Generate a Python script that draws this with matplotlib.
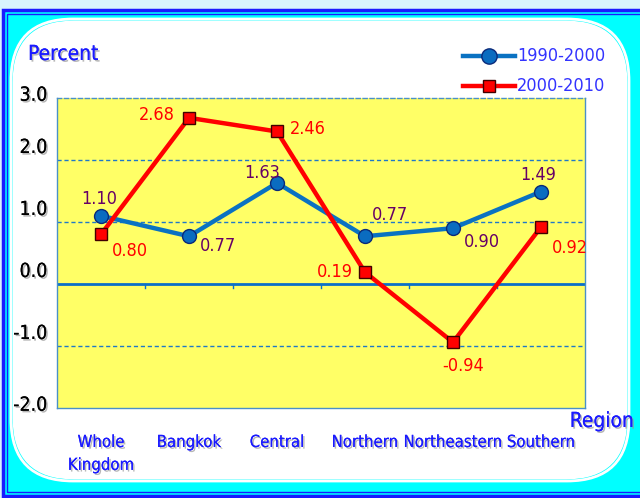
import matplotlib
matplotlib.use('Agg')
import matplotlib.pyplot as plt
import matplotlib.patheffects as pe
from matplotlib.patches import FancyBboxPatch, Rectangle

plt.rcParams['font.family'] = ['DejaVu Sans']
plt.rcParams['font.stretch'] = 'condensed'

regions = ['Whole\nKingdom', 'Bangkok', 'Central', 'Northern', 'Northeastern', 'Southern']
rate_1990_2000 = [1.10, 0.77, 1.63, 0.77, 0.90, 1.49]
rate_2000_2010 = [0.80, 2.68, 2.46, 0.19, -0.94, 0.92]
yticks = [3.0, 2.0, 1.0, 0.0, -1.0, -2.0]

# label offsets (points) for each data label
off_blue = [(-1, 12), (21, -7), (-11, 7), (18, 15), (21, -10), (-2, 12)]
off_red = [(21, -12), (-23, 2), (22, 2), (-22, 0), (7, -17), (21, -15)]

fig = plt.figure(figsize=(6.4, 4.98), dpi=100)
fig.patch.set_facecolor('#d8f4fd')

# frame: blue border, cyan fill, white rounded panel
fig.patches.append(Rectangle((3, 2), 650, 486, transform=None, facecolor='#00ffff',
                             edgecolor='#1a1aff', lw=2.5, zorder=-3))
fig.patches.append(Rectangle((7, 6), 650, 478, transform=None, facecolor='none',
                             edgecolor='#1a1aff', lw=1, zorder=-3))
fig.patches.append(FancyBboxPatch((36, 42), 568, 412, transform=None,
                                  boxstyle='round,pad=22,rounding_size=60',
                                  facecolor='white', edgecolor='white', lw=2, zorder=-2))
fig.patches.append(FancyBboxPatch((33, 39), 574, 418, transform=None,
                                  boxstyle='round,pad=22,rounding_size=62',
                                  facecolor='none', edgecolor='white', lw=2, zorder=-2))

ax = fig.add_axes([57 / 640, 1 - 408 / 498, 528 / 640, 310 / 498])
ax.set_zorder(1)
ax.set_facecolor('#ffff66')
x = list(range(len(regions)))

ax.set_xlim(-0.5, len(regions) - 0.5)
ax.set_ylim(-2.0, 3.0)
for v in [2.0, 1.0, -1.0]:
    ax.axhline(v, color='#1f78c8', lw=1, ls=(0, (3, 2)), zorder=1)
ax.axhline(0, color='#0a6fc8', lw=2, zorder=1)
for b in range(1, len(regions)):
    ax.plot([b - 0.5, b - 0.5], [0, -0.07], color='#0a6fc8', lw=1, zorder=1)

for s in ax.spines.values():
    s.set_color('#4a90c8')
    s.set_linewidth(1)
ax.spines['top'].set_linestyle((0, (3, 2)))

ax.plot(x, rate_1990_2000, color='#0a72c2', lw=3.2, marker='o', ms=10,
        mfc='#0a6cc0', mec='#0a2a7a', mew=1, zorder=3)
ax.plot(x, rate_2000_2010, color='#ff0000', lw=3.2, marker='s', ms=9,
        mfc='#ff0000', mec='#400000', mew=1, zorder=4)

for xi, v, o in zip(x, rate_1990_2000, off_blue):
    ax.annotate(f'{v:.2f}', (xi, v), xytext=o, textcoords='offset points',
                ha='center', va='center', fontsize=13, color='#660066', zorder=5)
for xi, v, o in zip(x, rate_2000_2010, off_red):
    ax.annotate(f'{v:.2f}', (xi, v), xytext=o, textcoords='offset points',
                ha='center', va='center', fontsize=13, color='#ff0000', zorder=5)

shadow = [pe.withSimplePatchShadow(offset=(1.2, -1.2), shadow_rgbFace='#999999', alpha=0.7), pe.Normal()]

ax.set_yticks([])
ax.set_xticks([])
for v in yticks:
    ax.annotate(f'{v:.1f}', (0, v), xycoords=('axes fraction', 'data'), xytext=(-7, 9 if -2.0 < v < 3.0 else 2),
                textcoords='offset points', ha='right', va='center', fontsize=14,
                color='black', path_effects=shadow, annotation_clip=False)

for xi, name in zip(x, regions):
    ax.annotate(name, (xi, 0), xycoords=('data', 'axes fraction'), xytext=(0, -18),
                textcoords='offset points', ha='center', va='top', fontsize=12,
                color='#1a1aff', linespacing=1.35, path_effects=shadow, annotation_clip=False)

fig.text(28 / 640, 1 - 54 / 498, 'Percent', fontsize=15, color='#1a1aff', va='center',
         path_effects=shadow)
fig.text(634 / 640, 1 - 421 / 498, 'Region', fontsize=15, color='#1a1aff', va='center',
         ha='right', path_effects=shadow)

# legend
lx0, lx1 = 463 / 640, 515 / 640
for yy, col, mk, mfc, mec, lab in [(1 - 56 / 498, '#0a72c2', 'o', '#0a6cc0', '#0a2a7a', '1990-2000'),
                                   (1 - 86 / 498, '#ff0000', 's', '#ff0000', '#400000', '2000-2010')]:
    fig.add_artist(plt.Line2D([lx0, lx1], [yy, yy], color=col, lw=3.2, transform=fig.transFigure))
    fig.add_artist(plt.Line2D([(lx0 + lx1) / 2], [yy], marker=mk, ms=11 if mk == 'o' else 9,
                              mfc=mfc, mec=mec, mew=1, transform=fig.transFigure))
    fig.text(517 / 640, yy, lab, fontsize=13, color='#3333ff', va='center')

fig.savefig('out.png', dpi=100, facecolor=fig.get_facecolor())
